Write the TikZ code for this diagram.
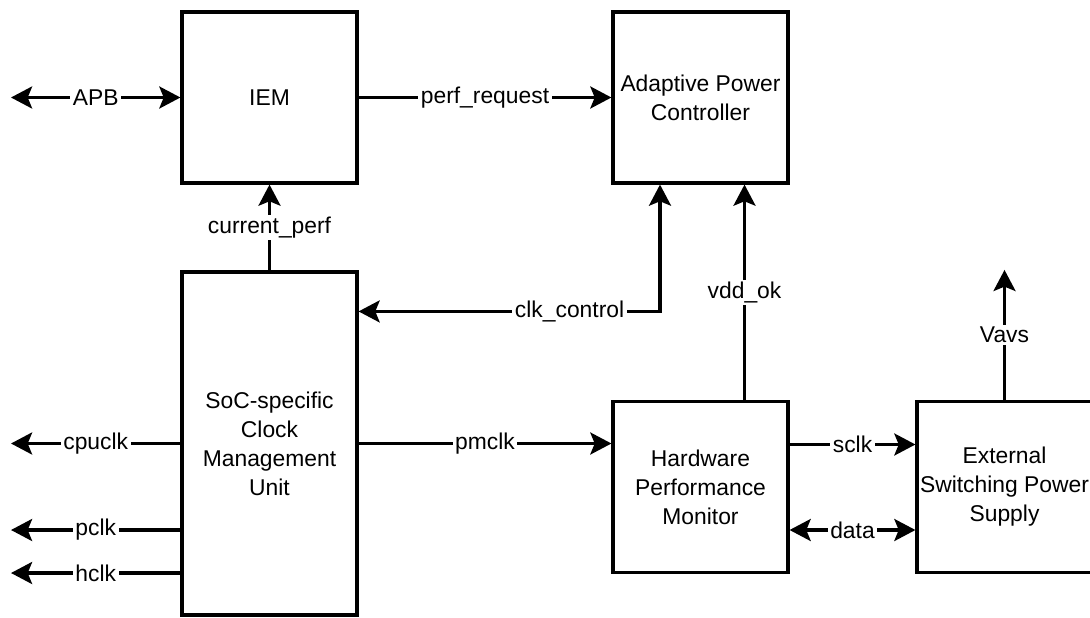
\documentclass[tikz,border=0pt]{standalone}
\usepackage{fontspec}
\setmainfont{Liberation Sans}
\usetikzlibrary{arrows.meta,calc,positioning}
\tikzset{
  Block/.style={
    draw, line width=1.8pt, fill=white,
    minimum width=3.5cm, minimum height=3.42cm,
    align=center, inner sep=0pt,
    font=\fontsize{13}{16.5}\selectfont
  },
  Sig/.style={line width=1.9pt},
  SigLabel/.style={
    fill=white, inner xsep=1.5pt, inner ysep=1pt,
    font=\fontsize{13}{16.5}\selectfont
  }
}

\begin{document}
\begin{tikzpicture}[line join=miter, >={Stealth[length=12pt,width=12.5pt,inset=2.5pt]}]
  \useasboundingbox (0,0) rectangle (21.8,12.34);

  % blocks
  \node[Block] (IEM) at (5.39,10.39) {IEM};
  \node[Block] (APC) at (14.01,10.39) {Adaptive Power\\Controller};
  \node[Block, minimum height=6.86cm] (CMU) at (5.39,3.47)
    {SoC-specific\\Clock\\Management\\Unit};
  \node[Block] (HPM) at (14.01,2.6) {Hardware\\Performance\\Monitor};
  \node[Block] (ESPS) at (20.09,2.6) {External\\Switching Power\\Supply};

  % loose ends of the external signals
  \coordinate (apbEnd) at (0.22,10.39);
  \coordinate (cpuEnd) at (CMU.west -| apbEnd);
  \coordinate (pclkEnd) at ([yshift=-1.73cm]cpuEnd);
  \coordinate (hclkEnd) at ([yshift=-2.59cm]cpuEnd);
  \coordinate (vavsEnd) at ([yshift=2.6cm]ESPS.north);

  % bus and control signals
  \draw[Sig, <->] (apbEnd) -- (IEM.west) node[SigLabel, midway] {APB};
  \draw[Sig, ->] (IEM.east) -- (APC.west) node[SigLabel, midway] {perf\_request};
  \draw[Sig, ->] (CMU.north) -- (IEM.south) node[SigLabel, midway] {current\_perf};
  \draw[Sig, <->] ([xshift=-0.81cm]APC.south) |- ([yshift=-0.82cm]CMU.north east)
    node[SigLabel, pos=0.65] {clk\_control};
  \draw[Sig, ->] ([xshift=0.88cm]HPM.north) -- ([xshift=0.88cm]APC.south)
    node[SigLabel, midway] {vdd\_ok};
  \draw[Sig, ->] (ESPS.north) -- (vavsEnd) node[SigLabel, midway] {Vavs};

  % clocks
  \draw[Sig, ->] (CMU.east) -- (CMU.east -| HPM.west) node[SigLabel, midway] {pmclk};
  \draw[Sig, ->] ([yshift=0.85cm]HPM.east) -- ([yshift=0.85cm]ESPS.west)
    node[SigLabel, midway] {sclk};
  \draw[Sig, <->] ([yshift=-0.86cm]HPM.east) -- ([yshift=-0.86cm]ESPS.west)
    node[SigLabel, midway] {data};
  \draw[Sig, ->] (CMU.west) -- (cpuEnd) node[SigLabel, midway] {cpuclk};
  \draw[Sig, ->] (CMU.west |- pclkEnd) -- (pclkEnd) node[SigLabel, midway] {pclk};
  \draw[Sig, ->] (CMU.west |- hclkEnd) -- (hclkEnd) node[SigLabel, midway] {hclk};
\end{tikzpicture}
\end{document}
